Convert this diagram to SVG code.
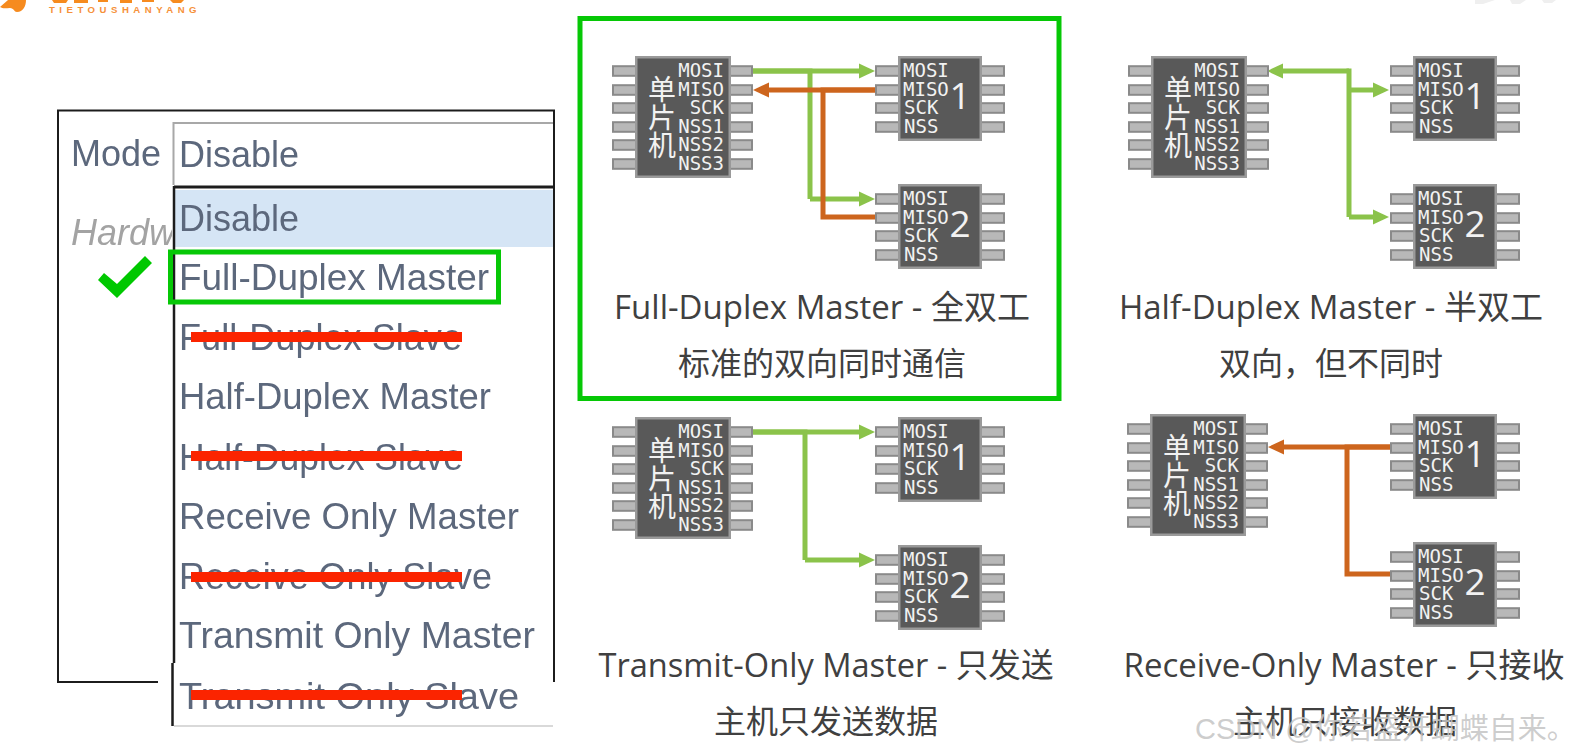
<svg xmlns="http://www.w3.org/2000/svg" xmlns:xlink="http://www.w3.org/1999/xlink" width="1588" height="755" viewBox="0 0 1588 755">
<style>
.body{fill:#595959;stroke:#9a9a9a;stroke-width:2.5}
.pin{fill:#b8b8b8;stroke:#8a8a8a;stroke-width:2}
.sig{font-family:"DejaVu Sans Mono","Liberation Mono",monospace;font-size:19px;fill:#f2f2f2}
.end{text-anchor:end}
.cjk{font-family:"Noto Sans CJK SC",sans-serif;font-size:28px;fill:#f2f2f2;text-anchor:middle}
.num{font-family:"Open Sans","DejaVu Sans",sans-serif;font-size:37px;fill:#f2f2f2;text-anchor:middle}
.cap{font-family:"Open Sans","Noto Sans CJK SC",sans-serif;font-size:33px;fill:#404040;text-anchor:middle}
.cn{font-family:"Noto Sans CJK SC",sans-serif;font-size:32px;fill:#404040;text-anchor:middle}
.opt{font-family:"Liberation Sans",Arial,sans-serif;font-size:37px;fill:#5c677c;filter:url(#soft)}
.g{fill:none;stroke:#8bc34a;stroke-width:5;marker-end:url(#ag)}
.gn{fill:none;stroke:#8bc34a;stroke-width:5}
.o{fill:none;stroke:#cd651d;stroke-width:5;marker-end:url(#ao)}
.on{fill:none;stroke:#cd651d;stroke-width:5}
.strike{fill:#fb2400}
.frame{fill:none;stroke:#06c806;stroke-width:5}
</style>
<defs>
<filter id="soft" x="-5%" y="-20%" width="110%" height="140%"><feGaussianBlur stdDeviation="0.45"/></filter>
<clipPath id="hc"><rect x="60" y="205" width="112" height="50"/></clipPath>
<marker id="ag" markerUnits="userSpaceOnUse" markerWidth="16" markerHeight="16" viewBox="0 0 16 16" refX="2" refY="8" orient="auto"><path d="M0,0.5L16,8L0,15.5Z" fill="#8bc34a"/></marker>
<marker id="ao" markerUnits="userSpaceOnUse" markerWidth="16" markerHeight="16" viewBox="0 0 16 16" refX="2" refY="8" orient="auto"><path d="M0,0.5L16,8L0,15.5Z" fill="#cd651d"/></marker>
<g id="mchip">
<rect class="pin" x="-22" y="10.2" width="24" height="9.6"/><rect class="pin" x="-22" y="29.2" width="24" height="9.6"/><rect class="pin" x="-22" y="47.2" width="24" height="9.6"/><rect class="pin" x="-22" y="66.2" width="24" height="9.6"/><rect class="pin" x="-22" y="84.2" width="24" height="9.6"/><rect class="pin" x="-22" y="103.2" width="24" height="9.6"/>
<rect class="pin" x="94" y="10.2" width="23" height="9.6"/><rect class="pin" x="94" y="29.2" width="23" height="9.6"/><rect class="pin" x="94" y="47.2" width="23" height="9.6"/><rect class="pin" x="94" y="66.2" width="23" height="9.6"/><rect class="pin" x="94" y="84.2" width="23" height="9.6"/><rect class="pin" x="94" y="103.2" width="23" height="9.6"/>
<rect class="body" x="1.25" y="1.25" width="93.5" height="119.5"/>
</g>
<g id="schip">
<rect class="pin" x="-22" y="10.2" width="24" height="9.6"/><rect class="pin" x="-22" y="29.2" width="24" height="9.6"/><rect class="pin" x="-22" y="47.2" width="24" height="9.6"/><rect class="pin" x="-22" y="66.2" width="24" height="9.6"/>
<rect class="pin" x="82" y="10.2" width="24" height="9.6"/><rect class="pin" x="82" y="29.2" width="24" height="9.6"/><rect class="pin" x="82" y="47.2" width="24" height="9.6"/><rect class="pin" x="82" y="66.2" width="24" height="9.6"/>
<rect class="body" x="1.25" y="1.25" width="81.5" height="82.5"/>
</g>
</defs>
<rect width="1588" height="755" fill="#ffffff"/>

<g id="logo">
<path d="M0,7 L8,0 L26,0 C26,6 23,12 17,12 C14,12 14,8 10,8 C6,8 3,9 0,7Z" fill="#f68b1f"/>
<path d="M52,0h16l-2,3h-12zM74,0h14v3h-14zM98,0h10v2h-10zM120,0h12v3h-12zM142,0h12v2h-12zM170,0h14l-3,3h-8z" fill="#f68b1f"/>
<text x="49" y="12.5" font-family="'Liberation Sans',Arial,sans-serif" font-size="9.6" font-weight="bold" fill="#f6913a" letter-spacing="4.5">TIETOUSHANYANG</text>
</g>
<path d="M1475,0h20l-12,4h-8zM1510,0h16l-6,4h-8zM1542,0h14l-4,3h-8z" fill="#efefef"/>

<g id="mode-panel">
<path d="M158,682H58V110.5H554V682" fill="none" stroke="#1c1c1c" stroke-width="2"/>
<text class="opt" x="71" y="166" style="font-size:36px">Mode</text>
<path d="M173.5,185V123H553" fill="none" stroke="#a8a8a8" stroke-width="2"/>
<text class="opt" x="179" y="167" textLength="120" lengthAdjust="spacingAndGlyphs">Disable</text>
<g clip-path="url(#hc)"><text x="71" y="245" font-family="'Liberation Sans',Arial,sans-serif" font-size="36" font-style="italic" fill="#a3a3a3" filter="url(#soft)">Hardware</text></g>
<rect x="175" y="190" width="378" height="57" fill="#d5e5f5"/>
<path d="M174,187H553" fill="none" stroke="#1c1c1c" stroke-width="3"/>
<path d="M174,186V663M172.5,663V726" fill="none" stroke="#1c1c1c" stroke-width="2.5"/>
<path d="M174,726H553" fill="none" stroke="#cccccc" stroke-width="1.5"/>
<text class="opt" x="179" y="231" textLength="120" lengthAdjust="spacingAndGlyphs">Disable</text>
<text class="opt" x="179" y="290" textLength="310" lengthAdjust="spacingAndGlyphs">Full-Duplex Master</text>
<text class="opt" x="179" y="350" textLength="283" lengthAdjust="spacingAndGlyphs">Full-Duplex Slave</text>
<text class="opt" x="179" y="409" textLength="312" lengthAdjust="spacingAndGlyphs">Half-Duplex Master</text>
<text class="opt" x="179" y="470" textLength="284" lengthAdjust="spacingAndGlyphs">Half-Duplex Slave</text>
<text class="opt" x="179" y="529" textLength="340" lengthAdjust="spacingAndGlyphs">Receive Only Master</text>
<text class="opt" x="179" y="589" textLength="313" lengthAdjust="spacingAndGlyphs">Receive Only Slave</text>
<text class="opt" x="179" y="648" textLength="356" lengthAdjust="spacingAndGlyphs">Transmit Only Master</text>
<text class="opt" x="179" y="709" textLength="340" lengthAdjust="spacingAndGlyphs">Transmit Only Slave</text>
<rect class="frame" x="170.5" y="252" width="328" height="50"/>
<rect class="strike" x="191" y="332" width="271" height="10"/>
<rect class="strike" x="191" y="451" width="271" height="10"/>
<rect class="strike" x="191" y="572" width="271" height="10"/>
<rect class="strike" x="191" y="690" width="271" height="10"/>
<path d="M98,280L117,298L152,263L145,256L117,284L104,273Z" fill="#00c800"/>
</g>

<rect id="selected-frame" class="frame" x="580" y="18.5" width="479" height="380"/>

<g id="connectors">
<path class="gn" d="M752,71H810V199"/>
<path class="g" d="M752,71H861"/>
<path class="g" d="M810,199H861"/>
<path class="on" d="M875,90H823V217H875"/>
<path class="o" d="M875,90H767"/>
<path class="g" d="M1349,71H1281"/>
<path class="gn" d="M1349,68.5V217"/>
<path class="g" d="M1349,90H1375"/>
<path class="g" d="M1349,217H1375"/>
<path class="gn" d="M752,432H805V560"/>
<path class="g" d="M752,432H861"/>
<path class="g" d="M805,560H861"/>
<path class="on" d="M1390,447H1347V574H1390"/>
<path class="o" d="M1390,447H1282"/>
</g>

<g id="full-master" transform="translate(635,56)"><use href="#mchip"/>
<text class="sig end" x="89" y="21">MOSI</text><text class="sig end" x="89" y="40">MISO</text><text class="sig end" x="89" y="58">SCK</text><text class="sig end" x="89" y="77">NSS1</text><text class="sig end" x="89" y="95">NSS2</text><text class="sig end" x="89" y="114">NSS3</text>
<text class="cjk" x="27" y="44">单</text><text class="cjk" x="27" y="72">片</text><text class="cjk" x="27" y="100">机</text></g>
<g id="full-slave1" transform="translate(898,56)"><use href="#schip"/>
<text class="sig" x="5" y="21">MOSI</text><text class="sig" x="5" y="40">MISO</text><text class="sig" x="6" y="58">SCK</text><text class="sig" x="6" y="77">NSS</text><text class="num" x="62" y="53">1</text></g>
<g id="full-slave2" transform="translate(898,184)"><use href="#schip"/>
<text class="sig" x="5" y="21">MOSI</text><text class="sig" x="5" y="40">MISO</text><text class="sig" x="6" y="58">SCK</text><text class="sig" x="6" y="77">NSS</text><text class="num" x="62" y="53">2</text></g>

<g id="half-master" transform="translate(1151,56)"><use href="#mchip"/>
<text class="sig end" x="89" y="21">MOSI</text><text class="sig end" x="89" y="40">MISO</text><text class="sig end" x="89" y="58">SCK</text><text class="sig end" x="89" y="77">NSS1</text><text class="sig end" x="89" y="95">NSS2</text><text class="sig end" x="89" y="114">NSS3</text>
<text class="cjk" x="27" y="44">单</text><text class="cjk" x="27" y="72">片</text><text class="cjk" x="27" y="100">机</text></g>
<g id="half-slave1" transform="translate(1413,56)"><use href="#schip"/>
<text class="sig" x="5" y="21">MOSI</text><text class="sig" x="5" y="40">MISO</text><text class="sig" x="6" y="58">SCK</text><text class="sig" x="6" y="77">NSS</text><text class="num" x="62" y="53">1</text></g>
<g id="half-slave2" transform="translate(1413,184)"><use href="#schip"/>
<text class="sig" x="5" y="21">MOSI</text><text class="sig" x="5" y="40">MISO</text><text class="sig" x="6" y="58">SCK</text><text class="sig" x="6" y="77">NSS</text><text class="num" x="62" y="53">2</text></g>

<g id="tx-master" transform="translate(635,417)"><use href="#mchip"/>
<text class="sig end" x="89" y="21">MOSI</text><text class="sig end" x="89" y="40">MISO</text><text class="sig end" x="89" y="58">SCK</text><text class="sig end" x="89" y="77">NSS1</text><text class="sig end" x="89" y="95">NSS2</text><text class="sig end" x="89" y="114">NSS3</text>
<text class="cjk" x="27" y="44">单</text><text class="cjk" x="27" y="72">片</text><text class="cjk" x="27" y="100">机</text></g>
<g id="tx-slave1" transform="translate(898,417)"><use href="#schip"/>
<text class="sig" x="5" y="21">MOSI</text><text class="sig" x="5" y="40">MISO</text><text class="sig" x="6" y="58">SCK</text><text class="sig" x="6" y="77">NSS</text><text class="num" x="62" y="53">1</text></g>
<g id="tx-slave2" transform="translate(898,545)"><use href="#schip"/>
<text class="sig" x="5" y="21">MOSI</text><text class="sig" x="5" y="40">MISO</text><text class="sig" x="6" y="58">SCK</text><text class="sig" x="6" y="77">NSS</text><text class="num" x="62" y="53">2</text></g>

<g id="rx-master" transform="translate(1150,414)"><use href="#mchip"/>
<text class="sig end" x="89" y="21">MOSI</text><text class="sig end" x="89" y="40">MISO</text><text class="sig end" x="89" y="58">SCK</text><text class="sig end" x="89" y="77">NSS1</text><text class="sig end" x="89" y="95">NSS2</text><text class="sig end" x="89" y="114">NSS3</text>
<text class="cjk" x="27" y="44">单</text><text class="cjk" x="27" y="72">片</text><text class="cjk" x="27" y="100">机</text></g>
<g id="rx-slave1" transform="translate(1413,414)"><use href="#schip"/>
<text class="sig" x="5" y="21">MOSI</text><text class="sig" x="5" y="40">MISO</text><text class="sig" x="6" y="58">SCK</text><text class="sig" x="6" y="77">NSS</text><text class="num" x="62" y="53">1</text></g>
<g id="rx-slave2" transform="translate(1413,542)"><use href="#schip"/>
<text class="sig" x="5" y="21">MOSI</text><text class="sig" x="5" y="40">MISO</text><text class="sig" x="6" y="58">SCK</text><text class="sig" x="6" y="77">NSS</text><text class="num" x="62" y="53">2</text></g>

<g id="captions">
<text class="cap" x="822" y="319">Full-Duplex Master - 全双工</text>
<text class="cn" x="822" y="375">标准的双向同时通信</text>
<text class="cap" x="1331" y="319">Half-Duplex Master - 半双工</text>
<text class="cn" x="1331" y="375">双向，但不同时</text>
<text class="cap" x="826" y="677" textLength="455" lengthAdjust="spacingAndGlyphs">Transmit-Only Master - 只发送</text>
<text class="cn" x="826" y="733">主机只发送数据</text>
<text class="cap" x="1344" y="677">Receive-Only Master - 只接收</text>
<text class="cn" x="1345" y="733">主机只接收数据</text>
</g>
<text id="watermark" x="1195" y="739" font-family="'Liberation Sans','Noto Sans CJK SC',sans-serif" font-size="29" fill="#c4c4c4" fill-opacity="0.85">CSDN @你若盛开蝴蝶自来。</text>
</svg>
